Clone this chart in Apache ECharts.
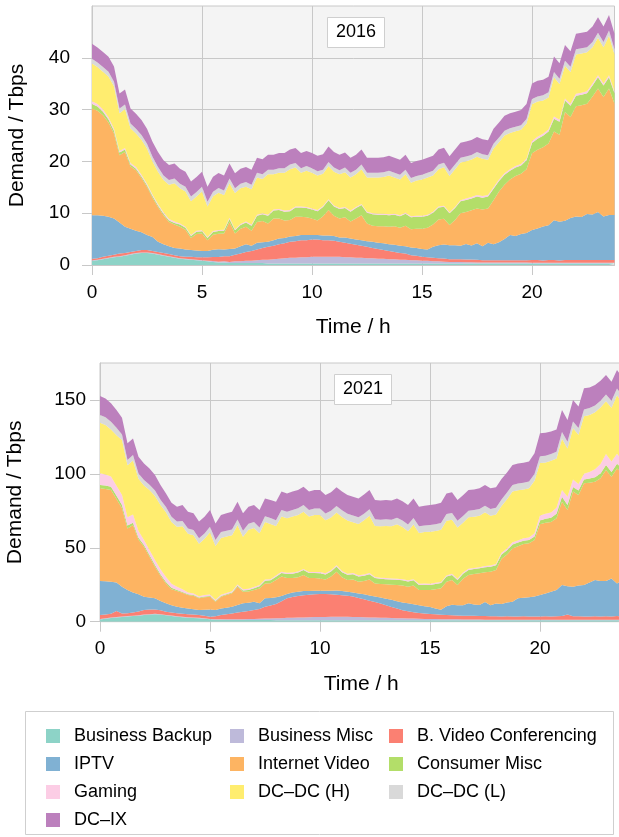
<!DOCTYPE html>
<html>
<head>
<meta charset="utf-8">
<title>Demand 2016 / 2021</title>
<script src="https://cdn.jsdelivr.net/npm/echarts@6/dist/echarts.min.js"></script>
<style>
  html, body { margin: 0; background: #fff; }
  #chart { width: 619px; height: 837px; }
</style>
</head>
<body>
<div id="chart"></div>
<script>
const hours = [
  0, 0.25, 0.5, 0.75, 1, 1.25, 1.5, 1.75, 2, 2.25, 2.5, 2.75, 3, 3.25, 3.5, 3.75,
  4, 4.25, 4.5, 4.75, 5, 5.25, 5.5, 5.75, 6, 6.25, 6.5, 6.75, 7, 7.25, 7.5, 7.75,
  8, 8.25, 8.5, 8.75, 9, 9.25, 9.5, 9.75, 10, 10.25, 10.5, 10.75, 11, 11.25, 11.5, 11.75,
  12, 12.25, 12.5, 12.75, 13, 13.25, 13.5, 13.75, 14, 14.25, 14.5, 14.75, 15, 15.25, 15.5, 15.75,
  16, 16.25, 16.5, 16.75, 17, 17.25, 17.5, 17.75, 18, 18.25, 18.5, 18.75, 19, 19.25, 19.5, 19.75,
  20, 20.25, 20.5, 20.75, 21, 21.25, 21.5, 21.75, 22, 22.25, 22.5, 22.75, 23, 23.25, 23.5, 23.75
]

const names = [
  'Business Backup', 'Business Misc', 'B. Video Conferencing', 'IPTV', 'Internet Video',
  'Consumer Misc', 'Gaming', 'DC–DC (H)', 'DC–DC (L)', 'DC–IX'
]
const colors = ['#8dd3c7', '#bebada', '#fb8072', '#80b1d3', '#fdb462', '#b3de69', '#fccde5', '#ffed6f', '#d9d9d9', '#bc80bd']

const xTicks = [0, 5, 10, 15, 20]
const yTicks2016 = [0, 10, 20, 30, 40]
const yTicks2021 = [0, 50, 100, 150]

// 2016, Tbps per quarter hour
const backup2016 = [
  0.8, 0.9, 1.1, 1.3, 1.5, 1.6, 1.8, 2.0, 2.2, 2.3, 2.3, 2.2, 2.0, 1.8, 1.6, 1.4,
  1.2, 1.1, 1.0, 0.9, 0.8, 0.7, 0.6, 0.5, 0.5, 0.4, 0.4, 0.4, 0.4, 0.4, 0.4, 0.4,
  0.3, 0.3, 0.3, 0.3, 0.3, 0.3, 0.3, 0.3, 0.3, 0.3, 0.3, 0.3, 0.3, 0.3, 0.3, 0.3,
  0.3, 0.3, 0.3, 0.3, 0.3, 0.3, 0.3, 0.3, 0.3, 0.3, 0.3, 0.3, 0.3, 0.3, 0.3, 0.3,
  0.3, 0.3, 0.3, 0.3, 0.3, 0.3, 0.3, 0.3, 0.3, 0.3, 0.3, 0.3, 0.3, 0.3, 0.3, 0.3,
  0.3, 0.3, 0.3, 0.3, 0.3, 0.3, 0.3, 0.3, 0.3, 0.3, 0.3, 0.3, 0.3, 0.3, 0.3, 0.3
]
const busMisc2016 = [
  0.1, 0.1, 0.1, 0.1, 0.1, 0.1, 0.1, 0.1, 0.1, 0.1, 0.1, 0.1, 0.1, 0.1, 0.1, 0.1,
  0.1, 0.1, 0.1, 0.1, 0.1, 0.1, 0.15, 0.15, 0.2, 0.2, 0.3, 0.3, 0.4, 0.4, 0.5, 0.6,
  0.7, 0.8, 0.9, 1.0, 1.1, 1.1, 1.2, 1.2, 1.3, 1.3, 1.3, 1.3, 1.3, 1.3, 1.2, 1.2,
  1.1, 1.1, 1.0, 1.0, 0.9, 0.9, 0.8, 0.8, 0.7, 0.7, 0.6, 0.6, 0.5, 0.5, 0.4, 0.4,
  0.35, 0.3, 0.3, 0.3, 0.25, 0.25, 0.2, 0.2, 0.2, 0.2, 0.2, 0.2, 0.2, 0.2, 0.2, 0.2,
  0.15, 0.15, 0.15, 0.15, 0.15, 0.15, 0.15, 0.15, 0.15, 0.15, 0.15, 0.15, 0.15, 0.15, 0.15, 0.15
]
const videoConf2016 = [
  0.3, 0.3, 0.4, 0.4, 0.4, 0.5, 0.4, 0.4, 0.4, 0.5, 0.5, 0.4, 0.4, 0.4, 0.4, 0.4,
  0.4, 0.4, 0.5, 0.5, 0.6, 0.7, 0.8, 0.9, 1.0, 1.1, 1.3, 1.5, 1.7, 1.9, 2.1, 2.3,
  2.5, 2.6, 2.8, 2.9, 3.1, 3.2, 3.3, 3.3, 3.3, 3.3, 3.2, 3.2, 3.1, 2.9, 2.8, 2.6,
  2.5, 2.3, 2.2, 2.0, 1.9, 1.7, 1.6, 1.4, 1.3, 1.2, 1.0, 0.9, 0.8, 0.7, 0.7, 0.6,
  0.6, 0.5, 0.5, 0.5, 0.5, 0.5, 0.5, 0.4, 0.4, 0.4, 0.4, 0.4, 0.4, 0.4, 0.4, 0.4,
  0.5, 0.5, 0.4, 0.5, 0.5, 0.4, 0.5, 0.5, 0.5, 0.5, 0.5, 0.5, 0.5, 0.5, 0.5, 0.5
]
const iptv2016 = [
  8.4, 8.3, 7.9, 7.5, 7.0, 6.0, 5.1, 4.5, 3.9, 3.4, 2.9, 2.7, 2.0, 1.7, 1.5, 1.4,
  1.5, 1.4, 1.3, 1.3, 1.2, 1.2, 1.4, 1.5, 1.3, 1.4, 1.2, 1.4, 1.5, 1.0, 1.3, 1.1,
  1.0, 1.1, 1.1, 1.0, 1.0, 1.0, 1.0, 1.0, 0.9, 0.9, 0.9, 0.9, 0.9, 0.8, 1.0, 1.0,
  1.0, 1.1, 1.1, 1.2, 1.2, 1.3, 1.3, 1.4, 1.4, 1.4, 1.5, 1.5, 1.5, 1.5, 2.1, 2.5,
  2.7, 2.7, 2.7, 2.6, 3.0, 2.7, 3.2, 2.7, 3.4, 3.1, 3.5, 4.1, 4.9, 4.7, 5.1, 5.3,
  5.8, 6.1, 6.6, 6.7, 7.7, 7.5, 7.6, 8.1, 8.4, 8.3, 8.9, 8.8, 9.3, 8.4, 8.7, 8.7
]
const internetVideo2016 = [
  20.6, 20.2, 19.4, 18.2, 16.4, 13.0, 14.4, 12.0, 11.7, 10.5, 9.3, 7.6, 6.7, 5.6, 4.7, 4.5,
  4.2, 3.8, 2.3, 3.2, 3.4, 2.1, 2.9, 3.0, 3.1, 5.2, 2.9, 3.4, 3.4, 2.9, 4.0, 4.1,
  3.5, 4.2, 3.9, 3.4, 3.2, 3.7, 3.5, 3.4, 3.2, 2.8, 3.7, 4.9, 3.9, 3.7, 3.9, 3.3,
  4.1, 4.8, 3.4, 3.1, 3.2, 3.3, 3.4, 3.6, 3.5, 4.0, 3.5, 3.7, 3.9, 4.2, 4.3, 5.0,
  5.0, 3.9, 4.9, 6.3, 6.2, 6.8, 6.7, 7.1, 6.6, 8.5, 9.8, 10.5, 10.7, 11.6, 11.6, 12.3,
  14.8, 15.2, 15.3, 15.8, 17.1, 16.8, 21.0, 19.5, 21.3, 21.6, 21.3, 22.8, 23.8, 23.1, 24.4, 21.5
]
const consumerMisc2016 = [
  0.9, 0.8, 0.7, 0.6, 0.5, 0.5, 0.5, 0.4, 0.3, 0.3, 0.3, 0.3, 0.3, 0.3, 0.3, 0.3,
  0.4, 0.4, 0.4, 0.4, 0.4, 0.4, 0.5, 0.5, 0.5, 0.6, 0.6, 0.7, 0.8, 1.0, 1.2, 1.3,
  1.5, 1.5, 1.6, 1.7, 1.7, 1.8, 1.8, 1.8, 1.7, 1.8, 1.8, 1.9, 1.8, 1.8, 1.8, 1.9,
  2.0, 2.0, 2.1, 2.2, 2.2, 2.2, 2.2, 2.2, 2.2, 2.3, 2.3, 2.3, 2.3, 2.3, 2.3, 2.3,
  2.3, 2.3, 2.3, 2.3, 2.3, 2.3, 2.3, 2.3, 2.3, 2.2, 2.0, 1.9, 1.7, 1.6, 1.6, 1.7,
  2.0, 2.1, 2.2, 2.3, 2.5, 2.5, 2.2, 2.2, 2.0, 2.0, 2.0, 2.1, 2.2, 2.2, 2.2, 2.0
]
const gaming2016 = [
  0.5, 0.5, 0.4, 0.4, 0.4, 0.3, 0.3, 0.3, 0.3, 0.3, 0.3, 0.3, 0.3, 0.3, 0.3, 0.3,
  0.2, 0.2, 0.2, 0.2, 0.2, 0.2, 0.2, 0.2, 0.2, 0.2, 0.2, 0.2, 0.2, 0.2, 0.2, 0.2,
  0.2, 0.2, 0.2, 0.2, 0.2, 0.2, 0.2, 0.2, 0.2, 0.2, 0.2, 0.2, 0.2, 0.2, 0.2, 0.2,
  0.2, 0.2, 0.2, 0.2, 0.2, 0.2, 0.2, 0.2, 0.2, 0.2, 0.2, 0.2, 0.2, 0.2, 0.2, 0.2,
  0.2, 0.2, 0.2, 0.2, 0.3, 0.3, 0.3, 0.3, 0.3, 0.3, 0.3, 0.3, 0.3, 0.3, 0.3, 0.3,
  0.4, 0.4, 0.4, 0.4, 0.4, 0.4, 0.4, 0.4, 0.4, 0.4, 0.4, 0.4, 0.4, 0.4, 0.4, 0.4
]
const dcdcHigh2016 = [
  7.3, 7.1, 7.3, 7.9, 8.2, 7.3, 7.5, 6.7, 6.5, 6.8, 6.8, 6.4, 6.2, 6.2, 6.6, 7.4,
  6.8, 6.8, 6.5, 6.6, 7.5, 5.9, 6.7, 7.2, 6.7, 6.7, 7.0, 6.9, 6.7, 6.8, 7.2, 6.6,
  7.8, 6.8, 7.0, 7.3, 7.9, 7.5, 6.5, 7.0, 6.9, 6.7, 6.2, 6.4, 6.5, 6.5, 6.7, 6.4,
  6.3, 6.7, 6.6, 6.9, 7.0, 7.1, 7.5, 7.0, 6.9, 7.4, 6.5, 6.8, 7.0, 7.2, 7.0, 7.2,
  7.4, 7.0, 7.3, 7.3, 7.2, 7.2, 7.4, 7.2, 6.8, 7.5, 7.2, 7.3, 7.0, 6.7, 6.6, 6.8,
  7.1, 6.8, 6.4, 6.2, 7.6, 6.9, 6.3, 6.1, 7.6, 7.6, 7.5, 7.0, 7.2, 7.0, 7.6, 7.1
]
const dcdcLow2016 = [
  0.9, 0.9, 0.9, 0.9, 0.9, 0.9, 0.9, 0.9, 0.9, 0.9, 0.9, 0.9, 0.9, 0.9, 0.9, 0.9,
  0.9, 0.9, 0.9, 0.9, 0.9, 0.9, 0.9, 0.9, 0.9, 0.9, 0.9, 0.9, 0.9, 0.9, 0.9, 0.9,
  0.9, 0.9, 0.9, 0.9, 0.9, 0.9, 0.9, 0.9, 0.9, 0.8, 0.8, 0.8, 0.8, 0.8, 0.9, 0.9,
  0.9, 0.9, 0.9, 0.9, 0.9, 0.9, 0.9, 0.9, 0.9, 0.9, 0.9, 0.9, 0.9, 0.9, 0.9, 0.9,
  0.9, 0.9, 0.9, 0.9, 0.9, 0.9, 0.9, 0.9, 0.9, 0.9, 0.9, 0.9, 0.9, 0.9, 0.9, 0.9,
  1.0, 1.0, 1.0, 1.0, 1.0, 1.0, 1.0, 1.0, 1.0, 1.0, 1.0, 1.0, 1.0, 1.0, 1.0, 1.0
]
const dcix2016 = [
  2.9, 2.9, 2.9, 2.9, 2.9, 2.9, 2.9, 2.9, 2.9, 2.9, 2.9, 2.9, 2.9, 2.9, 2.9, 2.9,
  2.9, 2.9, 2.9, 2.9, 2.9, 2.9, 2.9, 2.9, 2.9, 2.9, 2.9, 2.9, 2.9, 2.9, 2.9, 2.9,
  2.9, 2.9, 2.9, 2.9, 2.9, 2.9, 2.9, 2.9, 2.9, 3.0, 3.0, 3.0, 3.0, 3.0, 2.9, 2.9,
  2.9, 2.9, 2.9, 2.9, 2.9, 2.9, 2.9, 2.9, 2.9, 2.9, 2.9, 2.9, 2.9, 2.9, 2.9, 2.9,
  2.9, 2.9, 2.9, 2.9, 2.9, 2.9, 2.9, 2.9, 2.9, 2.9, 2.9, 2.9, 2.9, 2.9, 2.9, 2.9,
  3.0, 3.0, 3.0, 3.0, 3.0, 3.0, 3.0, 3.0, 3.0, 3.0, 3.0, 3.0, 3.0, 3.0, 3.0, 3.0
]

// 2021, Tbps per quarter hour
const backup2021 = [
  1.5, 2.0, 2.5, 2.9, 3.2, 3.5, 3.8, 4.1, 4.5, 4.8, 5.0, 4.8, 4.3, 3.9, 3.4, 3.0,
  2.7, 2.5, 2.3, 2.0, 1.6, 1.4, 1.3, 1.2, 1.1, 1.1, 1.1, 1.1, 1.1, 1.1, 1.1, 1.1,
  1.0, 1.0, 1.0, 1.0, 1.0, 1.0, 1.0, 1.0, 1.0, 1.0, 1.0, 1.0, 1.0, 1.0, 1.0, 1.0,
  1.0, 1.0, 1.0, 1.0, 1.0, 1.0, 1.0, 1.0, 1.0, 1.0, 1.0, 1.0, 1.0, 1.0, 1.0, 1.0,
  1.0, 1.0, 1.0, 1.0, 1.0, 1.0, 1.0, 1.0, 1.0, 1.0, 1.0, 1.0, 1.0, 1.0, 1.0, 1.0,
  1.0, 1.0, 1.0, 1.0, 1.0, 1.0, 1.0, 1.0, 1.0, 1.0, 1.0, 1.0, 1.0, 1.0, 1.0, 1.0
]
const busMisc2021 = [
  0.3, 0.3, 0.3, 0.3, 0.3, 0.3, 0.3, 0.3, 0.3, 0.3, 0.3, 0.3, 0.3, 0.3, 0.3, 0.3,
  0.3, 0.3, 0.3, 0.3, 0.3, 0.3, 0.4, 0.4, 0.5, 0.5, 0.6, 0.7, 0.8, 0.9, 1.0, 1.1,
  1.3, 1.4, 1.6, 1.7, 1.8, 1.9, 2.0, 2.1, 2.2, 2.2, 2.3, 2.3, 2.4, 2.3, 2.2, 2.1,
  2.0, 1.9, 1.8, 1.7, 1.6, 1.5, 1.4, 1.3, 1.2, 1.1, 1.0, 0.9, 0.8, 0.8, 0.7, 0.7,
  0.6, 0.6, 0.5, 0.5, 0.5, 0.5, 0.4, 0.4, 0.4, 0.4, 0.4, 0.4, 0.4, 0.4, 0.4, 0.4,
  0.3, 0.3, 0.3, 0.3, 0.3, 0.3, 0.3, 0.3, 0.3, 0.3, 0.3, 0.3, 0.3, 0.3, 0.3, 0.3
]
const videoConf2021 = [
  2.7, 2.5, 2.6, 4.0, 2.1, 2.0, 2.1, 2.5, 3.1, 3.1, 3.0, 2.6, 2.2, 2.1, 2.0, 2.0,
  2.0, 2.0, 1.9, 1.8, 1.5, 2.0, 2.8, 3.4, 4.0, 4.6, 5.1, 5.5, 6.0, 6.6, 8.0, 8.8,
  9.7, 11.5, 13.2, 14.0, 14.6, 15.0, 15.2, 15.4, 15.5, 15.5, 15.3, 15.0, 14.5, 14.2, 13.8, 13.0,
  12.2, 11.3, 10.5, 9.6, 8.6, 7.5, 6.5, 5.5, 4.8, 4.3, 3.9, 3.6, 3.4, 3.2, 3.0, 2.8,
  2.7, 2.6, 2.6, 2.5, 2.5, 2.4, 2.5, 2.3, 2.3, 2.2, 2.3, 2.2, 2.2, 2.3, 2.2, 2.2,
  2.3, 2.4, 2.3, 2.4, 2.5, 3.5, 2.4, 2.4, 2.3, 2.3, 2.4, 2.3, 2.4, 2.3, 2.5, 2.4
]
const iptv2021 = [
  23.1, 22.6, 21.7, 19.3, 18.1, 15.6, 13.6, 11.6, 9.0, 8.1, 7.5, 6.3, 5.6, 4.9, 4.4, 4.2,
  4.0, 3.7, 3.4, 4.0, 4.9, 4.2, 4.5, 4.5, 4.5, 5.1, 5.6, 5.5, 5.6, 3.9, 5.7, 5.0,
  4.5, 3.5, 3.0, 3.0, 2.8, 2.8, 2.5, 2.4, 2.3, 2.3, 2.4, 2.8, 2.9, 2.8, 2.8, 3.0,
  3.3, 3.5, 3.8, 4.0, 4.4, 4.8, 5.0, 5.2, 5.4, 5.4, 5.3, 5.0, 4.8, 4.0, 3.4, 6.0,
  7.2, 7.0, 7.0, 8.4, 7.6, 7.4, 9.5, 7.5, 8.6, 8.4, 9.3, 9.9, 12.2, 12.5, 12.9, 13.4,
  14.4, 15.3, 16.7, 17.7, 21.0, 19.2, 20.0, 20.8, 21.2, 22.9, 24.5, 23.9, 23.8, 25.7, 22.1, 24.5
]
const internetVideo2021 = [
  62.6, 62.4, 62.0, 56.5, 53.0, 41.7, 45.6, 37.0, 33.8, 27.7, 21.4, 17.0, 13.5, 10.8, 10.6, 10.0,
  9.0, 9.0, 7.9, 8.4, 8.6, 5.6, 7.9, 8.5, 9.1, 12.4, 7.9, 7.7, 7.9, 10.0, 10.1, 10.0,
  11.7, 13.1, 10.7, 9.8, 9.8, 10.9, 8.8, 8.6, 8.3, 7.5, 9.5, 12.7, 9.2, 7.9, 8.7, 7.9,
  9.0, 10.8, 8.8, 9.2, 9.7, 10.2, 10.9, 11.5, 11.3, 12.7, 10.2, 11.0, 11.4, 13.0, 14.5, 16.5,
  16.7, 13.6, 17.9, 19.2, 20.6, 21.4, 20.1, 22.6, 22.7, 30.5, 32.5, 36.1, 35.2, 36.3, 36.5, 38.3,
  48.0, 48.0, 47.2, 48.6, 56.4, 51.6, 64.3, 61.2, 68.8, 67.5, 66.5, 69.5, 75.1, 68.8, 77.8, 72.2
]
const consumerMisc2021 = [
  2.3, 2.3, 2.2, 2.2, 2.2, 2.0, 1.6, 1.3, 1.1, 1.1, 1.1, 1.1, 1.0, 0.9, 0.7, 0.6,
  0.5, 0.5, 0.5, 0.5, 0.5, 0.5, 0.5, 0.5, 0.6, 0.7, 0.8, 1.0, 1.2, 1.5, 1.8, 2.0,
  2.2, 2.5, 2.8, 3.0, 3.2, 3.3, 3.4, 3.4, 3.5, 3.5, 3.5, 3.6, 3.5, 3.5, 3.6, 3.6,
  3.6, 3.6, 3.6, 3.5, 3.5, 3.5, 3.5, 3.5, 3.5, 3.5, 3.5, 3.5, 3.5, 3.5, 3.5, 3.5,
  3.4, 3.4, 3.4, 3.4, 3.4, 3.4, 3.4, 3.4, 3.2, 3.0, 2.8, 2.6, 2.5, 2.3, 2.2, 2.3,
  2.4, 2.6, 2.8, 3.0, 3.4, 3.3, 3.2, 3.0, 2.6, 2.8, 3.0, 3.2, 3.4, 3.2, 3.1, 3.2
]
const gaming2021 = [
  7.9, 7.5, 7.0, 6.8, 6.8, 5.6, 5.6, 4.5, 3.4, 3.4, 3.4, 3.4, 3.3, 2.8, 2.3, 1.8,
  1.2, 1.1, 1.0, 1.0, 1.0, 0.9, 0.9, 0.9, 0.8, 0.8, 0.8, 0.8, 0.8, 0.8, 0.8, 0.8,
  0.8, 0.8, 0.8, 0.8, 0.8, 0.8, 0.8, 0.8, 0.8, 0.8, 0.8, 0.8, 0.8, 0.8, 0.8, 0.8,
  0.8, 0.8, 0.8, 0.8, 0.8, 0.8, 0.8, 0.8, 0.8, 0.8, 0.8, 0.8, 0.8, 0.8, 0.8, 0.8,
  0.8, 0.8, 0.8, 0.8, 0.8, 0.8, 0.8, 0.8, 0.9, 1.1, 1.3, 1.5, 1.5, 1.6, 1.8, 2.2,
  3.4, 3.5, 3.6, 4.0, 4.5, 5.6, 5.0, 4.5, 3.8, 4.5, 5.5, 6.5, 7.5, 7.0, 6.8, 5.5
]
const dcdcHigh2021 = [
  34.2, 33.5, 31.8, 34.2, 37.2, 35.1, 36.5, 35.4, 37.0, 40.6, 43.4, 43.4, 43.9, 41.8, 40.6, 42.6,
  39.8, 39.3, 35.5, 38.1, 42.1, 36.3, 38.4, 38.2, 37.8, 40.0, 35.6, 39.9, 40.0, 35.0, 38.9, 37.3,
  33.5, 37.3, 36.8, 37.8, 38.2, 38.7, 37.4, 38.4, 38.5, 35.9, 35.7, 35.6, 36.6, 36.0, 34.4, 34.7,
  36.7, 38.7, 34.5, 34.7, 35.2, 35.2, 36.8, 35.2, 33.2, 36.9, 34.3, 34.8, 35.2, 35.1, 35.3, 37.0,
  36.6, 34.8, 33.8, 34.8, 34.6, 34.8, 36.3, 33.7, 33.4, 31.6, 33.3, 34.3, 34.0, 33.1, 33.3, 35.6,
  35.5, 34.6, 34.9, 33.4, 34.7, 32.7, 34.7, 33.2, 39.0, 38.6, 38.5, 38.2, 35.6, 36.5, 39.6, 38.8
]
const dcdcLow2021 = [
  5.2, 5.2, 5.2, 5.0, 3.8, 3.6, 3.6, 3.6, 3.6, 3.6, 3.6, 3.6, 3.5, 3.5, 3.5, 3.6,
  3.6, 3.6, 3.6, 3.6, 3.8, 4.0, 4.0, 4.0, 4.0, 4.0, 4.0, 4.0, 4.0, 4.0, 4.0, 4.0,
  4.0, 4.5, 4.5, 4.5, 4.5, 4.5, 4.5, 4.5, 4.5, 4.5, 4.5, 4.5, 4.5, 4.5, 4.5, 4.5,
  4.5, 4.5, 4.5, 4.5, 4.5, 4.5, 4.5, 4.5, 4.5, 4.5, 4.5, 4.5, 4.5, 4.5, 4.5, 4.5,
  4.5, 4.5, 4.5, 4.5, 4.5, 4.5, 4.5, 4.5, 4.5, 4.5, 4.5, 4.5, 4.5, 4.5, 4.5, 4.5,
  4.6, 4.6, 4.6, 4.6, 4.6, 4.6, 4.6, 4.6, 4.6, 4.6, 4.6, 4.6, 4.6, 4.6, 4.6, 4.6
]
const dcix2021 = [
  12.9, 12.7, 12.4, 12.0, 11.3, 11.3, 11.3, 11.3, 11.3, 11.0, 10.5, 10.0, 9.2, 9.5, 10.0, 10.8,
  11.3, 11.3, 11.3, 11.3, 11.3, 11.3, 11.5, 11.7, 12.0, 12.0, 11.8, 11.6, 11.5, 11.8, 12.0, 12.2,
  12.4, 12.4, 12.4, 12.4, 12.4, 12.4, 12.4, 12.5, 12.5, 12.5, 12.5, 12.6, 12.6, 12.7, 12.8, 12.8,
  12.9, 13.0, 13.0, 13.0, 13.0, 13.0, 13.0, 13.0, 13.2, 13.2, 13.3, 13.4, 13.5, 13.6, 13.8, 14.0,
  14.0, 14.0, 14.0, 14.0, 14.0, 14.0, 14.0, 14.0, 14.0, 13.8, 13.6, 13.5, 13.5, 13.5, 13.5, 14.0,
  15.5, 15.5, 15.2, 15.0, 14.8, 14.6, 14.5, 14.5, 14.3, 14.0, 13.8, 13.5, 13.2, 13.0, 12.5, 12.5
]

const layers2016 = [backup2016, busMisc2016, videoConf2016, iptv2016, internetVideo2016,
  consumerMisc2016, gaming2016, dcdcHigh2016, dcdcLow2016, dcix2016]
const layers2021 = [backup2021, busMisc2021, videoConf2021, iptv2021, internetVideo2021,
  consumerMisc2021, gaming2021, dcdcHigh2021, dcdcLow2021, dcix2021]

const font = '"Liberation Sans", Arial, Helvetica, sans-serif'
const ink = '#000'
const rule = '#c8c8c8'

// the time axis is categorical so that stacking runs on the values
const onTick = (index) => xTicks.includes(hours[index])

function stacked(layers, index, stack) {
  return layers.map((values, i) => ({
    name: names[i],
    type: 'line',
    stack,
    xAxisIndex: index,
    yAxisIndex: index,
    color: colors[i],
    symbol: 'none',
    lineStyle: { width: 0 },
    areaStyle: { color: colors[i], opacity: 1 },
    emphasis: { disabled: true },
    data: values,
  }))
}

function timeAxis(gridIndex) {
  return {
    gridIndex,
    type: 'category',
    data: hours,
    boundaryGap: false,
    name: 'Time / h',
    nameLocation: 'middle',
    nameGap: 52,
    nameTextStyle: { fontSize: 21, color: ink, fontFamily: font },
    axisLine: { show: true, lineStyle: { color: rule } },
    axisTick: { show: true, length: 10, interval: onTick, lineStyle: { color: rule } },
    axisLabel: { interval: onTick, margin: 18, fontSize: 19, color: ink, fontFamily: font },
    splitLine: { show: true, interval: onTick, lineStyle: { color: rule } },
  }
}

function demandAxis(gridIndex, max, interval, ticks, gap, margin) {
  return {
    gridIndex,
    type: 'value',
    min: 0,
    max,
    interval,
    name: 'Demand / Tbps',
    nameLocation: 'middle',
    nameGap: gap,
    nameTextStyle: { fontSize: 21, color: ink, fontFamily: font },
    axisLine: { show: true, lineStyle: { color: rule } },
    axisTick: { show: true, length: 10, customValues: ticks, lineStyle: { color: rule } },
    axisLabel: { customValues: ticks, margin, fontSize: 19, color: ink, fontFamily: font },
    splitLine: { show: true, lineStyle: { color: rule } },
  }
}

function yearTag(text, left, top) {
  return {
    text,
    left,
    top,
    padding: [6, 9],
    backgroundColor: '#fff',
    borderColor: '#cfcfcf',
    borderWidth: 1,
    textStyle: { fontSize: 18, fontWeight: 'normal', color: ink, fontFamily: font, lineHeight: 19 },
  }
}

const legendColumns = [
  [names[0], names[3], names[6], names[9]],
  [names[1], names[4], names[7]],
  [names[2], names[5], names[8]],
]
const legendLeft = [41, 225, 384]

const chart = echarts.init(document.getElementById('chart'))
chart.setOption({
  animation: false,
  backgroundColor: '#fff',
  textStyle: { fontFamily: font },
  title: [yearTag('2016', 327, 17), yearTag('2021', 334, 374)],
  grid: [
    { left: 92, top: 6, width: 522.5, height: 259, outerBoundsMode: 'none', show: true, backgroundColor: '#f4f4f4', borderColor: rule, borderWidth: 1 },
    { left: 100, top: 363, width: 522.5, height: 258.7, outerBoundsMode: 'none', show: true, backgroundColor: '#f4f4f4', borderColor: rule, borderWidth: 1 },
  ],
  xAxis: [timeAxis(0), timeAxis(1)],
  yAxis: [demandAxis(0, 50, 10, yTicks2016, 64, 22), demandAxis(1, 175, 50, yTicks2021, 74, 14)],
  legend: legendColumns.map((data, i) => ({
    data,
    orient: 'vertical',
    left: legendLeft[i],
    top: 721,
    icon: 'rect',
    itemWidth: 14,
    itemHeight: 14,
    itemGap: 8,
    textStyle: { fontSize: 18, lineHeight: 20, color: ink, fontFamily: font, padding: [0, 0, 0, 9] },
  })),
  graphic: [{
    type: 'rect',
    left: 25,
    top: 711,
    z: 0,
    shape: { width: 588, height: 123 },
    style: { fill: '#fff', stroke: '#cfcfcf', lineWidth: 1 },
  }],
  series: [...stacked(layers2016, 0, 'y2016'), ...stacked(layers2021, 1, 'y2021')],
})
</script>
</body>
</html>
